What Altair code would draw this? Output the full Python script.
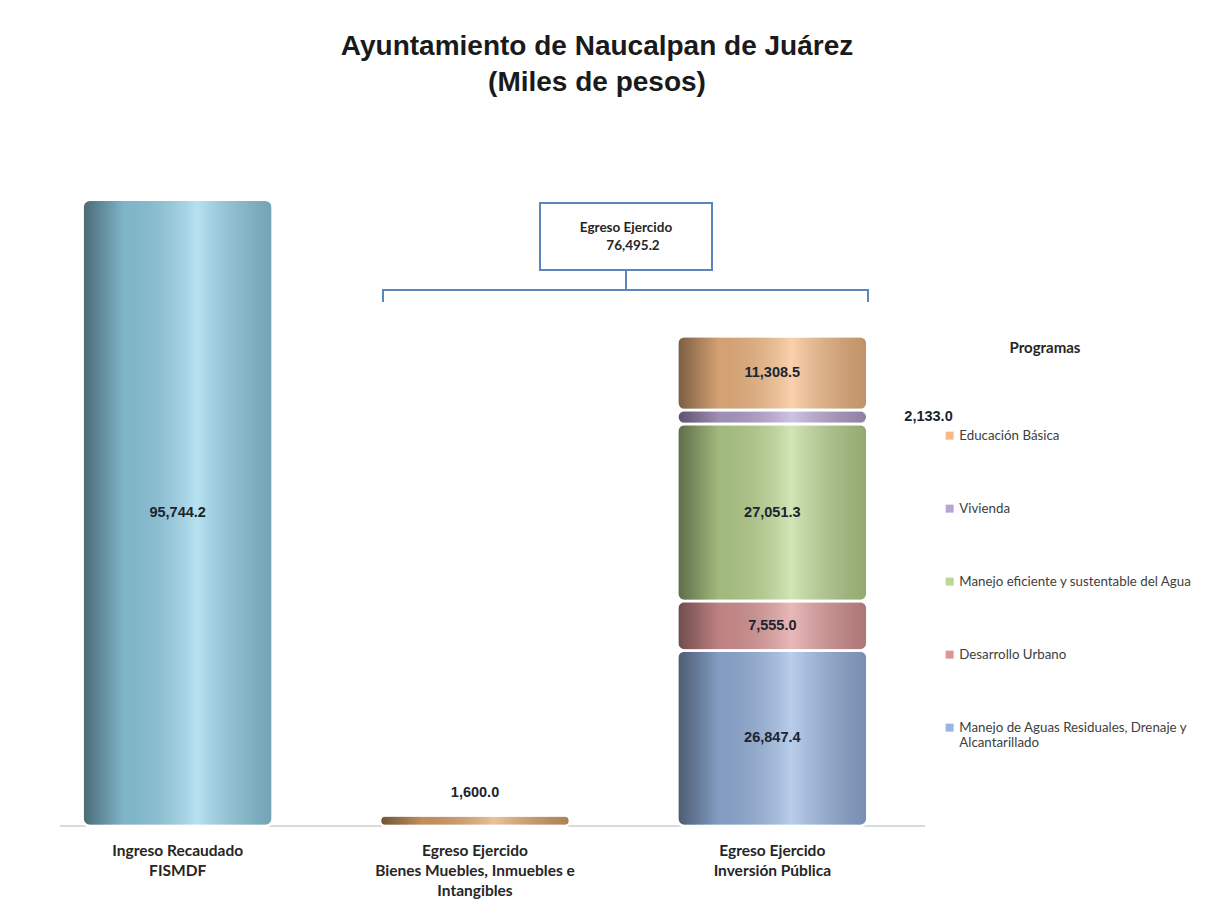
import altair as alt
import pandas as pd

# ---------------- data ----------------
categorias = [
    "Ingreso Recaudado|FISMDF",
    "Egreso Ejercido|Bienes Muebles, Inmuebles e|Intangibles",
    "Egreso Ejercido|Inversión Pública",
]
ingreso_recaudado = [95744.2]
bienes_muebles = [1600.0]
programas = [
    "Manejo de Aguas Residuales, Drenaje y Alcantarillado",
    "Desarrollo Urbano",
    "Manejo eficiente y sustentable del Agua",
    "Vivienda",
    "Educación Básica",
]
valores_programas = [26847.4, 7555.0, 27051.3, 2133.0, 11308.5]
egreso_total = [76495.2]

series = ["Ingreso", "Bienes"] + programas
colores = ["#93d3ea", "#e0a46a", "#98b6e2", "#de9797", "#bcd891", "#b7a5d3", "#f6bb84"]

rows = [
    {"categoria": categorias[0], "serie": "Ingreso", "valor": ingreso_recaudado[0], "orden": 0},
    {"categoria": categorias[1], "serie": "Bienes", "valor": bienes_muebles[0], "orden": 0},
]
for i, (p, v) in enumerate(zip(programas, valores_programas)):
    rows.append({"categoria": categorias[2], "serie": p, "valor": v, "orden": i})
df = pd.DataFrame(rows)
df_total = pd.DataFrame({"total": egreso_total})

# ---------------- encodings ----------------
base = alt.Chart(df).transform_stack(
    stack="valor", groupby=["categoria"], as_=["y0", "y1"],
    sort=[alt.SortField("orden", order="ascending")],
).transform_calculate(mid="(datum.y0 + datum.y1) / 2")

x_enc = alt.X(
    "categoria:N",
    scale=alt.Scale(domain=categorias, paddingInner=0, paddingOuter=0),
    axis=alt.Axis(
        title=None, labelExpr="split(datum.label, '|')", labelAngle=0,
        ticks=False, domain=False, labelFont="Lato", labelFontWeight="bold",
        labelFontSize=15.5, labelColor="#262626", labelLineHeight=20,
        labelPadding=17, labelLimit=400,
    ),
)
y_scale = alt.Scale(domain=[0, 111000], nice=False, zero=True)

legend = alt.Legend(
    title=None, orient="none", legendX=914, legendY=329,
    values=programas[::-1], symbolType="square", symbolSize=64,
    symbolStrokeWidth=0, labelFont="Lato", labelFontSize=13.3,
    labelColor="#404040", rowPadding=59, labelOffset=3, labelLimit=320,
    labelExpr="datum.label == 'Manejo de Aguas Residuales, Drenaje y Alcantarillado' ? "
              "['Manejo de Aguas Residuales, Drenaje y', 'Alcantarillado'] : datum.label",
)

barras = base.mark_bar(width=190, cornerRadius=7, stroke="white", strokeWidth=2.5).encode(
    x=x_enc,
    y=alt.Y("y0:Q", scale=y_scale, axis=None),
    y2="y1:Q",
    color=alt.Color("serie:N", scale=alt.Scale(domain=series, range=colores), legend=legend),
)

grad = alt.LinearGradient(
    gradient="linear", x1=0, x2=1, y1=0, y2=0,
    stops=[
        alt.GradientStop(color="rgba(0,0,0,0.50)", offset=0),
        alt.GradientStop(color="rgba(0,0,0,0.14)", offset=0.22),
        alt.GradientStop(color="rgba(255,255,255,0.32)", offset=0.6),
        alt.GradientStop(color="rgba(0,0,0,0.22)", offset=1),
    ],
)
brillo = base.mark_bar(width=190, cornerRadius=7, fill=grad, stroke="white", strokeWidth=2.5).encode(
    x=x_enc, y=alt.Y("y0:Q", scale=y_scale, axis=None), y2="y1:Q",
)

txt_style = dict(font="Liberation Sans", fontWeight="bold", fontSize=14.5, color="#1b2430")

etiquetas = base.transform_filter(
    "datum.serie != 'Vivienda' && datum.serie != 'Bienes'"
).mark_text(**txt_style).encode(
    x=x_enc, y=alt.Y("mid:Q", scale=y_scale, axis=None),
    text=alt.Text("valor:Q", format=",.1f"),
)
etiqueta_viv = base.transform_filter("datum.serie == 'Vivienda'").mark_text(
    align="left", dx=132, **txt_style
).encode(x=x_enc, y=alt.Y("mid:Q", scale=y_scale, axis=None), text=alt.Text("valor:Q", format=",.1f"))
etiqueta_bienes = base.transform_filter("datum.serie == 'Bienes'").mark_text(
    dy=-23, **txt_style
).encode(x=x_enc, y=alt.Y("y1:Q", scale=y_scale, axis=None), text=alt.Text("valor:Q", format=",.1f"))

# ---------------- annotations ----------------
azul = "#5b86bd"
linea_base = alt.Chart(df_total).mark_rule(color="#d9d9d9", strokeWidth=2).encode(
    x=alt.value(31), x2=alt.value(896), y=alt.value(726)
)
caja = alt.Chart(df_total).mark_rect(fill="white", stroke=azul, strokeWidth=2).encode(
    x=alt.value(511), x2=alt.value(683), y=alt.value(103), y2=alt.value(170)
)
caja_t1 = alt.Chart(df_total).mark_text(font="Lato", fontWeight="bold", fontSize=13.5, color="#262626").encode(
    x=alt.value(597), y=alt.value(128), text=alt.value("Egreso Ejercido")
)
caja_t2 = alt.Chart(df_total).mark_text(font="Lato", fontWeight="bold", fontSize=13.5, color="#262626").encode(
    x=alt.value(604), y=alt.value(146), text=alt.Text("total:Q", format=",.1f")
)
titulo_leyenda = alt.Chart(df_total).mark_text(font="Lato", fontWeight="bold", fontSize=15, color="#262626").encode(
    x=alt.value(1016), y=alt.value(248), text=alt.value("Programas")
)
r_centro = alt.Chart(df_total).mark_rule(color=azul, strokeWidth=2).encode(
    x=alt.value(597), y=alt.value(170), y2=alt.value(190)
)
r_horiz = alt.Chart(df_total).mark_rule(color=azul, strokeWidth=2).encode(
    x=alt.value(354), x2=alt.value(839), y=alt.value(190)
)
r_izq = alt.Chart(df_total).mark_rule(color=azul, strokeWidth=2).encode(
    x=alt.value(354), y=alt.value(189), y2=alt.value(202)
)
r_der = alt.Chart(df_total).mark_rule(color=azul, strokeWidth=2).encode(
    x=alt.value(839), y=alt.value(189), y2=alt.value(202)
)

chart = alt.layer(
    linea_base, barras, brillo, etiquetas, etiqueta_viv, etiqueta_bienes,
    caja, caja_t1, caja_t2, titulo_leyenda, r_centro, r_horiz, r_izq, r_der,
).properties(
    width=892, height=726,
    title=alt.Title(
        ["Ayuntamiento de Naucalpan de Juárez", "(Miles de pesos)"],
        font="Liberation Sans", fontSize=28, fontWeight="bold", color="#1a1a1a",
        anchor="middle", dx=122, offset=3, lineHeight=36,
    ),
    autosize=alt.AutoSizeParams(type="none"),
    padding={"left": 21, "top": 92, "right": 278, "bottom": 74},
    background="white",
).configure_view(strokeWidth=0)

chart.save("out.html", embed_options={"renderer": "svg", "actions": False})
